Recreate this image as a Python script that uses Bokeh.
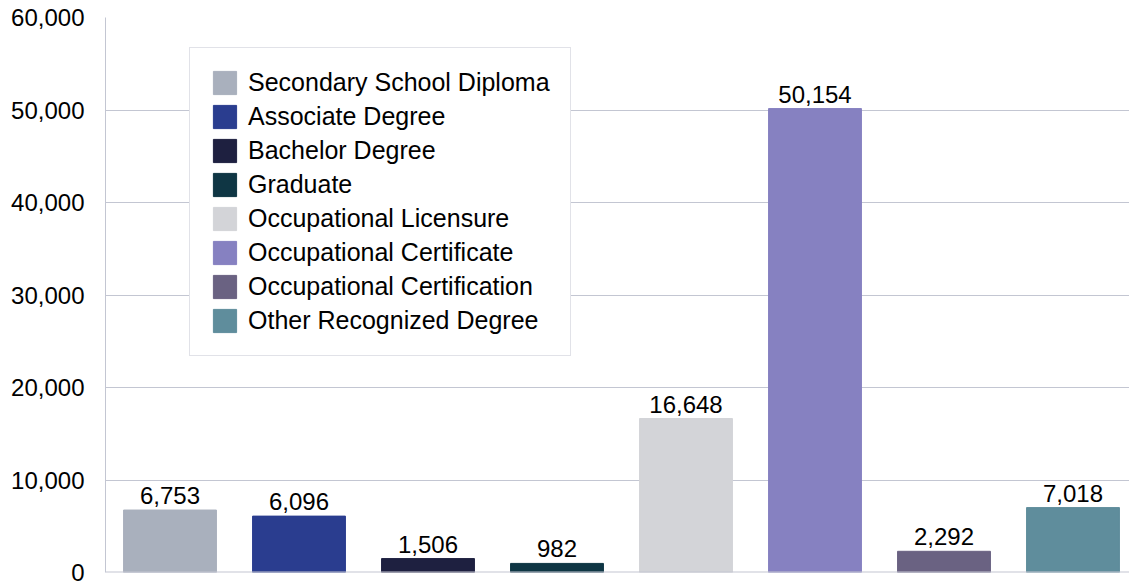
from bokeh.plotting import figure
from bokeh.models import ColumnDataSource, Range1d, NumeralTickFormatter, Span, Legend, LegendItem
from bokeh.embed import file_html
from bokeh.resources import INLINE
from bokeh.core.properties import value

categories = ["Secondary School Diploma", "Associate Degree", "Bachelor Degree", "Graduate",
              "Occupational Licensure", "Occupational Certificate", "Occupational Certification",
              "Other Recognized Degree"]
counts = [6753, 6096, 1506, 982, 16648, 50154, 2292, 7018]
colors = ["#a9b0bd", "#2a3d8f", "#1e2040", "#0f3644", "#d3d4d8", "#8681c1", "#6a6282", "#5f8d9c"]
y_ticks = [0, 10000, 20000, 30000, 40000, 50000, 60000]

FONT = "Liberation Sans"
GRID = "#c3c6d2"

xs = [i + 0.5 for i in range(len(categories))]
src = ColumnDataSource(dict(x=xs, top=counts, color=colors, cat=categories,
                            label=[f"{v:,}" for v in counts]))

p = figure(width=1129, height=585, output_backend="svg", toolbar_location=None,
           x_range=Range1d(0, 7.938), y_range=Range1d(0, 60000),
           min_border_left=105, min_border_right=0, min_border_top=17, min_border_bottom=13)
p.outline_line_color = None
p.xaxis.visible = False
p.xgrid.visible = False

p.yaxis.ticker = y_ticks
p.yaxis.formatter = NumeralTickFormatter(format="0,0")
p.yaxis.major_tick_line_color = None
p.yaxis.minor_tick_line_color = None
p.yaxis.axis_line_color = GRID
p.yaxis.major_label_standoff = 15
p.yaxis.major_label_text_font = FONT
p.yaxis.major_label_text_font_size = "24px"
p.yaxis.major_label_text_color = "#000000"
p.ygrid.grid_line_color = GRID
p.ygrid.grid_line_width = 1

r = p.vbar(x="x", top="top", width=0.72, bottom=0, color="color", source=src)
p.add_layout(Span(location=0, dimension="width", line_color=GRID, line_width=2))

p.text(x="x", y="top", text="label", source=src, text_align="center",
       text_baseline="bottom", y_offset=-6, text_font=value(FONT),
       text_font_size="24px", text_color="#000000")

items = [LegendItem(label=categories[i], renderers=[r], index=i) for i in range(len(categories))]
legend = Legend(items=items, location=(84, 216), margin=0, padding=20,
                glyph_width=29, glyph_height=29, label_height=29, spacing=5,
                label_standoff=9, label_text_font=FONT, label_text_font_size="25px",
                label_text_color="#000000", border_line_color=GRID, border_line_width=1,
                background_fill_color="#ffffff", background_fill_alpha=1.0)
p.add_layout(legend, "center")

open("out.html", "w").write(file_html(p, INLINE))
